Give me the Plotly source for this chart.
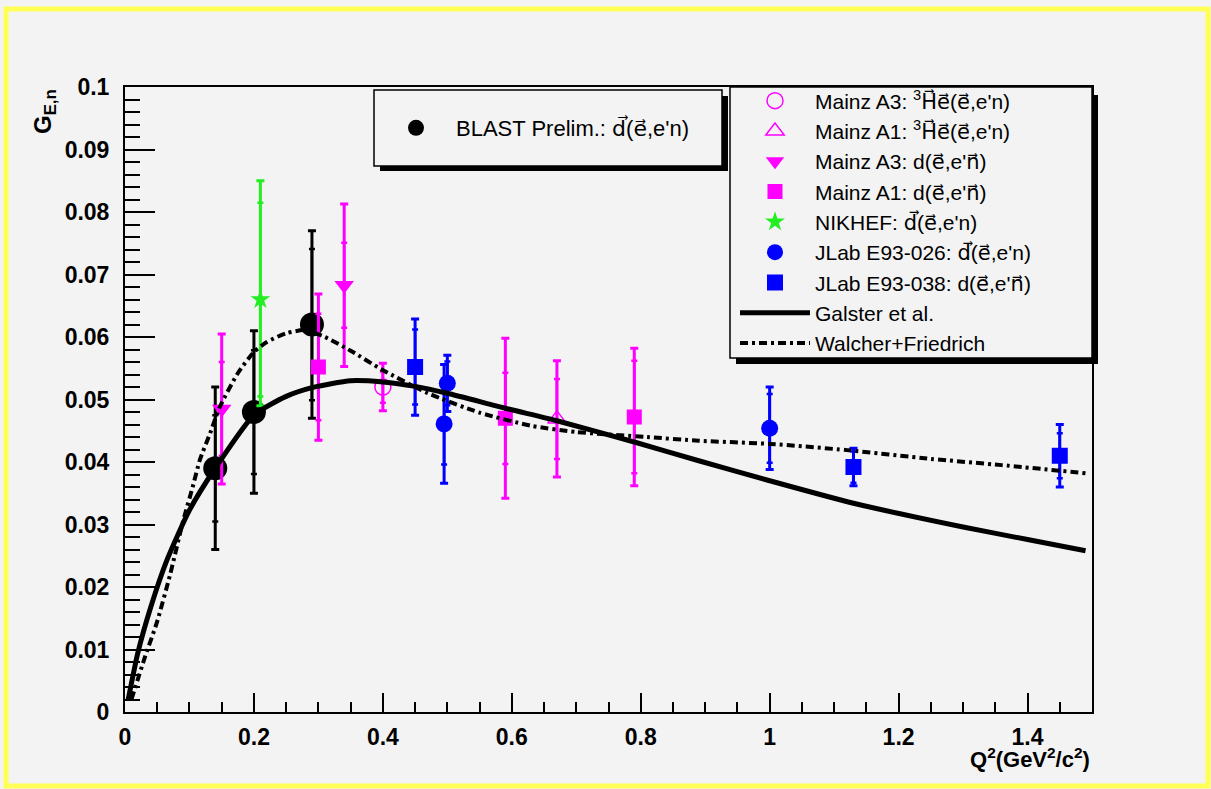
import plotly.graph_objects as go

# ---------------- data ----------------
blast_q2 = [0.14, 0.20, 0.29]
blast_g = [0.039, 0.048, 0.062]
blast_tot = [0.013, 0.013, 0.015]
blast_stat = [0.0085, 0.0099, 0.0121]

mainzA3_he_q2 = [0.40]
mainzA3_he_g = [0.052]
mainzA3_he_tot = [0.0038]
mainzA3_he_stat = [0.0025]

mainzA1_he_q2 = [0.67]
mainzA1_he_g = [0.0469]
mainzA1_he_tot = [0.0093]
mainzA1_he_stat = [0.0064]

mainzA3_d_q2 = [0.15, 0.34]
mainzA3_d_g = [0.0485, 0.0683]
mainzA3_d_tot = [0.012, 0.013]
mainzA3_d_stat = [0.0075, 0.0068]

mainzA1_d_q2 = [0.30, 0.59, 0.79]
mainzA1_d_g = [0.0552, 0.047, 0.0472]
mainzA1_d_tot = [0.0117, 0.0128, 0.011]
mainzA1_d_stat = [0.0085, 0.0073, 0.009]

nikhef_q2 = [0.21]
nikhef_g = [0.066]
nikhef_tot_up = [0.019]
nikhef_tot_dn = [0.017]
nikhef_stat = [0.0155]

jlab026_q2 = [0.495, 0.50, 1.00]
jlab026_g = [0.0461, 0.0526, 0.0454]
jlab026_tot = [0.0095, 0.0045, 0.0066]
jlab026_stat = [0.0065, 0.0035, 0.0055]

jlab038_q2 = [0.45, 1.13, 1.45]
jlab038_g = [0.0552, 0.0392, 0.041]
jlab038_tot = [0.0077, 0.003, 0.005]
jlab038_stat = [0.006, 0.0025, 0.0036]

galster_q2 = [0.005, 0.02, 0.04, 0.065, 0.10, 0.14, 0.20, 0.25, 0.29, 0.35, 0.40,
              0.45, 0.50, 0.59, 0.67, 0.79, 0.89, 1.00, 1.13, 1.30, 1.40, 1.49]
galster_g = [0.002, 0.0095, 0.0168, 0.0243, 0.0323, 0.039, 0.0475, 0.0505, 0.0519, 0.053, 0.0528,
             0.0521, 0.051, 0.0486, 0.0466, 0.0432, 0.0402, 0.0370, 0.0334, 0.0296, 0.0276, 0.0258]

wf_q2 = [0.01, 0.03, 0.05, 0.07, 0.09, 0.105, 0.116, 0.132, 0.147, 0.175, 0.20, 0.22, 0.25, 0.28,
         0.31, 0.35, 0.40, 0.47, 0.55, 0.63, 0.70, 0.81, 0.89, 1.00, 1.12, 1.25, 1.36, 1.49]
wf_g = [0.002, 0.0085, 0.0145, 0.022, 0.0305, 0.036, 0.0403, 0.0446, 0.0488, 0.0542, 0.0576, 0.0592,
        0.0606, 0.0611, 0.060, 0.0578, 0.0547, 0.051, 0.0479, 0.0458, 0.0448, 0.0440, 0.0434, 0.0429,
        0.0419, 0.0405, 0.0395, 0.0382]

x_ticks = [0, 0.2, 0.4, 0.6, 0.8, 1.0, 1.2, 1.4]
x_ticklabels = ["0", "0.2", "0.4", "0.6", "0.8", "1", "1.2", "1.4"]
y_ticks = [0, 0.01, 0.02, 0.03, 0.04, 0.05, 0.06, 0.07, 0.08, 0.09, 0.1]
y_ticklabels = ["0", "0.01", "0.02", "0.03", "0.04", "0.05", "0.06", "0.07", "0.08", "0.09", "0.1"]

# ---------------- layout geometry ----------------
W, H = 1211, 789
ML, MR, MT, MB = 125, 119, 87, 77
PW, PH = W - ML - MR, H - MT - MB


def px2x(px):
    return (px - ML) / PW


def px2y(py):
    return (H - MB - py) / PH


FONT = "Liberation Sans, Arial, sans-serif"
BG = "#f3f3f3"


def vec(s):
    # letters with an arrow above (combining right arrow), drawn in DejaVu Sans
    return ("<span style=\"font-family:'DejaVu Sans'\">"
            + "".join(ch + "\u20d7" for ch in s) + "</span>")


fig = go.Figure()


def add_series(name, x, y, tup, tdn, stat, color, symbol, size, legend, group, line_w=0):
    # statistical (inner) error bars
    fig.add_trace(go.Scatter(
        x=x, y=y, mode="markers", showlegend=False, legendgroup=group, hoverinfo="skip",
        marker=dict(size=2, opacity=0, color=color),
        error_y=dict(type="data", symmetric=True, array=stat, color=color, thickness=2.5, width=3),
    ))
    # total error bars + marker
    fig.add_trace(go.Scatter(
        x=x, y=y, mode="markers", name=name, legend=legend, legendgroup=group,
        marker=dict(symbol=symbol, size=size, color=color,
                    line=dict(color=color, width=line_w)),
        error_y=dict(type="data", symmetric=False, array=tup, arrayminus=tdn,
                     color=color, thickness=3, width=4),
    ))


MAG = "#ff00ff"
BLUE = "#0000ff"
GREEN = "#22ee22"

add_series(f"BLAST Prelim.: {vec('d')}({vec('e')},e'n)", blast_q2, blast_g, blast_tot, blast_tot,
           blast_stat, "black", "circle", 24, "legend", "g0")
add_series(f"Mainz A3: <sup>3</sup>{vec('He')}({vec('e')},e'n)", mainzA3_he_q2, mainzA3_he_g,
           mainzA3_he_tot, mainzA3_he_tot, mainzA3_he_stat, MAG, "circle-open", 16, "legend2", "g1", 1.5)
add_series(f"Mainz A1: <sup>3</sup>{vec('He')}({vec('e')},e'n)", mainzA1_he_q2, mainzA1_he_g,
           mainzA1_he_tot, mainzA1_he_tot, mainzA1_he_stat, MAG, "triangle-up-open", 16, "legend2", "g2", 1.5)
add_series(f"Mainz A3: d({vec('e')},e'{vec('n')})", mainzA3_d_q2, mainzA3_d_g, mainzA3_d_tot,
           mainzA3_d_tot, mainzA3_d_stat, MAG, "triangle-down", 17, "legend2", "g3")
add_series(f"Mainz A1: d({vec('e')},e'{vec('n')})", mainzA1_d_q2, mainzA1_d_g, mainzA1_d_tot,
           mainzA1_d_tot, mainzA1_d_stat, MAG, "square", 15, "legend2", "g4")
add_series(f"NIKHEF: {vec('d')}({vec('e')},e'n)", nikhef_q2, nikhef_g, nikhef_tot_up, nikhef_tot_dn,
           nikhef_stat, GREEN, "star", 15, "legend2", "g5")
add_series(f"JLab E93-026: {vec('d')}({vec('e')},e'n)", jlab026_q2, jlab026_g, jlab026_tot,
           jlab026_tot, jlab026_stat, BLUE, "circle", 17, "legend2", "g6")
add_series(f"JLab E93-038: d({vec('e')},e'{vec('n')})", jlab038_q2, jlab038_g, jlab038_tot,
           jlab038_tot, jlab038_stat, BLUE, "square", 16, "legend2", "g7")

fig.add_trace(go.Scatter(
    x=galster_q2, y=galster_g, mode="lines", name="Galster et al.", legend="legend2", legendgroup="g8",
    line=dict(color="black", width=5, shape="spline", smoothing=0.6), hoverinfo="skip",
))
fig.add_trace(go.Scatter(
    x=wf_q2, y=wf_g, mode="lines", name="Walcher+Friedrich", legend="legend2", legendgroup="g9",
    line=dict(color="black", width=4, dash="8px,4px,3px,4px", shape="spline", smoothing=0.6),
    hoverinfo="skip",
))

shapes = [
    # outer yellow frame
    dict(type="rect", xref="paper", yref="paper", x0=px2x(6), x1=px2x(1208), y0=px2y(786), y1=px2y(9),
         line=dict(color="#ffff55", width=5), fillcolor="rgba(0,0,0,0)", layer="above"),
    # legend 1 shadow + box
    dict(type="rect", xref="paper", yref="paper", x0=px2x(380), x1=px2x(728), y0=px2y(171), y1=px2y(96),
         line=dict(width=0), fillcolor="black", layer="above"),
    dict(type="rect", xref="paper", yref="paper", x0=px2x(374), x1=px2x(722), y0=px2y(166), y1=px2y(90),
         line=dict(color="black", width=1.5), fillcolor=BG, layer="above"),
    # legend 2 shadow + box
    dict(type="rect", xref="paper", yref="paper", x0=px2x(736), x1=px2x(1098), y0=px2y(364), y1=px2y(95),
         line=dict(width=0), fillcolor="black", layer="above"),
    dict(type="rect", xref="paper", yref="paper", x0=px2x(730), x1=px2x(1092), y0=px2y(358), y1=px2y(87),
         line=dict(color="black", width=1.5), fillcolor=BG, layer="above"),
]

axis_common = dict(
    showgrid=False, zeroline=False, showline=True, linecolor="black", linewidth=2, mirror=True,
    ticks="inside", tickcolor="black", tickwidth=1.5,
    tickfont=dict(family=FONT, size=23, color="black", weight="bold"),
)

fig.update_layout(
    width=W, height=H, autosize=False,
    margin=dict(l=ML, r=MR, t=MT, b=MB, pad=0),
    paper_bgcolor=BG, plot_bgcolor=BG,
    font=dict(family=FONT, color="black"),
    xaxis=dict(range=[0, 1.5], tickvals=x_ticks, ticktext=x_ticklabels, ticklen=19,
               ticklabelstandoff=3,
               minor=dict(dtick=0.05, tick0=0, ticklen=10, ticks="inside", tickcolor="black",
                          tickwidth=1.5, showgrid=False),
               **axis_common),
    yaxis=dict(range=[0, 0.1], tickvals=y_ticks, ticktext=y_ticklabels, ticklen=30,
               ticklabelstandoff=9,
               minor=dict(dtick=0.002, tick0=0, ticklen=15, ticks="inside", tickcolor="black",
                          tickwidth=1.5, showgrid=False),
               **axis_common),
    shapes=shapes,
    legend=dict(x=px2x(376), y=px2y(128), xanchor="left", yanchor="middle",
                bgcolor="rgba(0,0,0,0)", borderwidth=0, itemwidth=70,
                font=dict(family=FONT, size=22, color="black")),
    legend2=dict(x=px2x(735), y=px2y(222), xanchor="left", yanchor="middle",
                 bgcolor="rgba(0,0,0,0)", borderwidth=0, itemwidth=70,
                 traceorder="grouped", tracegroupgap=0,
                 font=dict(family=FONT, size=21, color="black")),
    annotations=[
        dict(xref="paper", yref="paper", x=px2x(44), y=px2y(112), textangle=-90,
             text="G<sub>E,n</sub>", showarrow=False, xanchor="center", yanchor="middle",
             font=dict(family=FONT, size=24, color="black", weight="bold")),
        dict(xref="paper", yref="paper", x=px2x(1092), y=px2y(758),
             text="Q<sup>2</sup>(GeV<sup>2</sup>/c<sup>2</sup>)", showarrow=False,
             xanchor="right", yanchor="middle",
             font=dict(family=FONT, size=22, color="black", weight="bold")),
    ],
    hovermode=False,
)

fig.write_html("out.html", config={"displayModeBar": False},
               post_script="document.body.style.margin='0';")
